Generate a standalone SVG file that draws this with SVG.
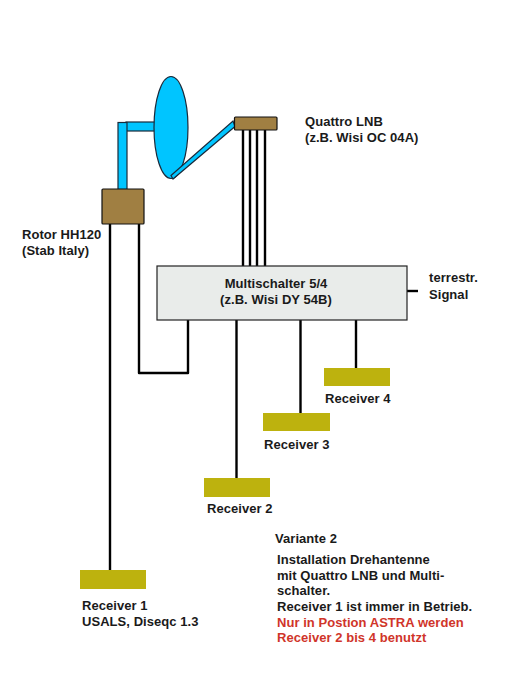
<svg xmlns="http://www.w3.org/2000/svg" width="507" height="677" viewBox="0 0 507 677">
<style>
text{font-family:"Liberation Sans",Arial,sans-serif;font-size:13px;font-weight:bold;fill:#1a1a1a;letter-spacing:.05px}
.c{fill:none;stroke:#000;stroke-width:2.400;stroke-linejoin:round}
.b{fill:#00c5ff;stroke:#1a2a3a;stroke-width:1.200}
.br{fill:#a07f42;stroke:#111;stroke-width:1.200}
.r{fill:#bdb20e}
.red{fill:#d0352a}
.m{text-anchor:middle}
</style>
<rect width="507" height="677" fill="#fff"/>
<g id="connectors">
<path class="c" d="M110 224V570"/>
<path class="c" d="M139 224V373H188V320"/>
<path class="c" d="M243 130V266M250 130V266M257 130V266M265 130V266"/>
<path class="c" d="M236.500 320V478"/>
<path class="c" d="M300.500 320V413"/>
<path class="c" d="M356 320V368"/>
<path class="c" d="M407 291H418"/>
</g>
<g id="dish">
<rect class="b" x="126" y="122" width="30" height="9"/>
<rect class="b" x="118" y="122.500" width="9" height="67"/>
<ellipse class="b" cx="171" cy="127.500" rx="17" ry="51"/>
<path class="b" d="M171 175.500L233 121L235 126.500L173 179Z"/>
</g>
<g id="rotor">
<rect class="br" x="102" y="189" width="42" height="35" rx="1"/>
<text x="22" y="239">Rotor HH120</text>
<text x="22" y="255">(Stab Italy)</text>
</g>
<g id="lnb">
<rect class="br" x="234.500" y="117" width="42.500" height="13" rx="1"/>
<text x="305" y="126">Quattro LNB</text>
<text x="305" y="142">(z.B. Wisi OC 04A)</text>
</g>
<g id="multischalter">
<rect x="157" y="266" width="250" height="54" fill="#e9ecea" stroke="#222" stroke-width="1.200"/>
<text class="m" x="276" y="288">Multischalter 5/4</text>
<text class="m" x="276" y="304">(z.B. Wisi DY 54B)</text>
</g>
<g id="terrestr">
<text x="429" y="282">terrestr.</text>
<text x="429" y="299">Signal</text>
</g>
<g id="receiver4">
<rect class="r" x="324" y="368" width="66" height="18"/>
<text x="325" y="403">Receiver 4</text>
</g>
<g id="receiver3">
<rect class="r" x="263" y="413" width="67" height="18"/>
<text x="264" y="449">Receiver 3</text>
</g>
<g id="receiver2">
<rect class="r" x="204" y="478" width="66" height="19"/>
<text x="207" y="513">Receiver 2</text>
</g>
<g id="receiver1">
<rect class="r" x="80" y="570" width="66" height="19"/>
<text x="82" y="610">Receiver 1</text>
<text x="82" y="626">USALS, Diseqc 1.3</text>
</g>
<g id="notes">
<text x="275" y="543">Variante 2</text>
<text x="277" y="564">Installation Drehantenne</text>
<text x="277" y="580">mit Quattro LNB und Multi-</text>
<text x="277" y="595">schalter.</text>
<text x="277" y="611">Receiver 1 ist immer in Betrieb.</text>
<text class="red" x="277" y="627">Nur in Postion ASTRA werden</text>
<text class="red" x="277" y="642">Receiver 2 bis 4 benutzt</text>
</g>
</svg>
